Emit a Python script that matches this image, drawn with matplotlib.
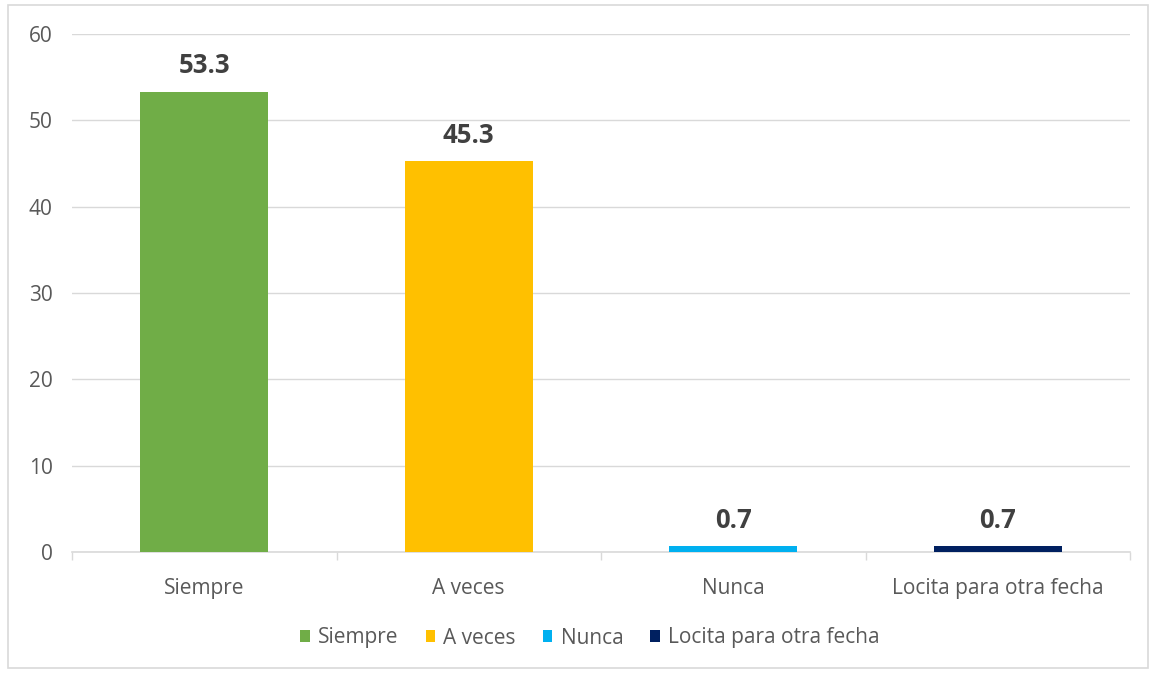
import numpy as np
import matplotlib.pyplot as plt
from matplotlib.patches import Rectangle

# data
categories = ['Siempre', 'A veces', 'Nunca', 'Locita para otra fecha']
values = [53.3, 45.3, 0.7, 0.7]
colors = ['#70AD47', '#FFC000', '#00B0F0', '#002060']
y_ticks = [0, 10, 20, 30, 40, 50, 60]

plt.rcParams['font.family'] = ['Open Sans', 'DejaVu Sans']

W, H = 1153, 674
fig = plt.figure(figsize=(W / 100, H / 100), dpi=100)
ax = fig.add_axes([72 / W, 1 - 552 / H, (1130 - 72) / W, (552 - 34) / H])

# outer chart border
fig.patches.append(Rectangle((8 / W, 1 - 668 / H), (1148 - 8) / W, (668 - 5) / H,
                             transform=fig.transFigure, fill=False,
                             edgecolor='#D9D9D9', linewidth=1.2))

x = np.arange(len(categories))
bars = ax.bar(x, values, width=0.484, color=colors, label=categories, zorder=3)

# value labels
for xi, v in zip(x, values):
    ax.text(xi, v + 3.0, '{0:.1f}'.format(v), ha='center', va='center',
            fontsize=18.5, fontweight='bold', color='#404040')

ax.set_xlim(-0.5, len(categories) - 0.5)
ax.set_ylim(0, 60)
ax.set_yticks(y_ticks)
ax.yaxis.grid(True, color='#D9D9D9', linewidth=1, zorder=0)
ax.tick_params(axis='y', length=0, labelsize=15, labelcolor='#595959', pad=14)

# category labels between boundary ticks
ax.set_xticks(np.arange(len(categories) + 1) - 0.5)
ax.set_xticklabels([])
ax.set_xticks(x, minor=True)
ax.set_xticklabels(categories, minor=True)
ax.tick_params(axis='x', which='major', length=6, color='#D9D9D9', width=1)
ax.tick_params(axis='x', which='minor', length=0, labelsize=15,
               labelcolor='#595959', pad=19)

for s in ['top', 'right', 'left']:
    ax.spines[s].set_visible(False)
ax.spines['bottom'].set_color('#D9D9D9')
ax.spines['bottom'].set_linewidth(1.2)

leg = fig.legend(handles=bars, labels=categories, loc='center',
                 bbox_to_anchor=(590 / W, 1 - 638 / H), ncol=4, frameon=False,
                 fontsize=15, handlelength=0.45, handleheight=0.45,
                 handletextpad=0.4, columnspacing=1.3)
for t in leg.get_texts():
    t.set_color('#595959')

fig.savefig('out.png', dpi=100)
